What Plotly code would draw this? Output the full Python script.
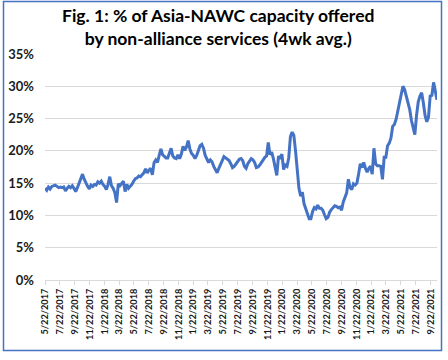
import pandas as pd
import plotly.graph_objects as go

start_date = "2017-05-22"
share_pct = [
    14.2, 13.9, 14.4, 14.1, 14.5, 14.6, 14.7, 14.5, 14.3, 14.4,
    14.3, 14.4, 13.8, 14.2, 14.5, 14.3, 14.6, 14.2, 13.7, 14.3,
    15.0, 15.8, 16.4, 15.6, 14.9, 14.5, 14.1, 14.7, 14.5, 14.8,
    14.7, 15.2, 15.0, 15.3, 14.8, 14.5, 14.0, 14.8, 16.0, 14.6,
    14.2, 13.5, 12.0, 14.9, 14.6, 14.9, 15.3, 13.7, 14.8, 14.2,
    14.5, 14.8, 15.3, 15.7, 15.8, 16.1, 16.0, 16.3, 16.6, 17.2,
    16.6, 17.0, 17.3, 16.3, 18.2, 18.6, 18.2, 19.3, 20.3, 19.4,
    19.1, 18.9, 18.9, 19.8, 20.4, 19.2, 18.9, 18.8, 19.4, 18.8,
    19.5, 20.7, 20.1, 20.6, 21.6, 20.3, 19.6, 19.3, 18.8, 19.3,
    20.0, 20.8, 21.0, 20.4, 19.3, 18.6, 18.2, 18.6, 18.3, 17.6,
    17.2, 16.6, 17.3, 17.8, 18.5, 19.1, 18.9, 18.6, 18.5, 18.0,
    17.4, 17.6, 18.0, 18.4, 18.7, 18.8, 18.5, 17.6, 17.3, 18.0,
    18.4, 18.8, 18.6, 18.2, 17.4, 17.5, 17.8, 18.2, 18.7, 19.0,
    19.2, 21.3, 19.4, 19.8, 18.8, 17.5, 16.2, 19.2, 18.8, 19.5,
    17.1, 17.8, 17.6, 18.9, 22.2, 22.9, 22.4, 20.0, 17.5, 14.2,
    13.0, 13.6, 11.8, 11.1, 10.5, 9.5, 9.5, 10.6, 11.2, 11.0,
    11.6, 11.1, 11.1, 10.8, 10.1, 9.5, 9.7, 10.5, 10.9, 11.2,
    11.5, 11.4, 11.2, 11.3, 10.8, 12.1, 12.9, 13.5, 15.6, 14.3,
    14.0, 14.9, 14.7, 15.0, 16.4, 18.0, 17.4, 18.2, 17.3, 16.7,
    17.3, 17.6, 16.4, 20.4, 18.0, 17.7, 17.7, 17.6, 15.6, 19.0,
    19.0, 20.8, 21.2, 22.0, 23.8, 24.1, 24.9, 26.1, 27.4, 28.8,
    30.0, 29.5, 28.5, 27.3, 26.4, 24.7, 23.3, 22.5, 25.5, 27.6,
    28.5, 29.0, 27.4, 25.5, 24.5, 25.2, 28.5, 28.6, 30.6, 28.9,
    27.9,
]
tick_dates = [
    "2017-05-22", "2017-07-22", "2017-09-22", "2017-11-22", "2018-01-22",
    "2018-03-22", "2018-05-22", "2018-07-22", "2018-09-22", "2018-11-22",
    "2019-01-22", "2019-03-22", "2019-05-22", "2019-07-22", "2019-09-22",
    "2019-11-22", "2020-01-22", "2020-03-22", "2020-05-22", "2020-07-22",
    "2020-09-22", "2020-11-22", "2021-01-22", "2021-03-22", "2021-05-22",
    "2021-07-22", "2021-09-22",
]
tick_labels = [f"{int(d[5:7])}/{int(d[8:10])}/{d[0:4]}" for d in tick_dates]
y_ticks = [0, 0.05, 0.10, 0.15, 0.20, 0.25, 0.30, 0.35]
title_lines = ["Fig. 1: % of Asia-NAWC capacity offered",
               "by non-alliance services (4wk avg.)"]

dates = pd.date_range(start_date, periods=len(share_pct), freq="7D")
values = [v / 100 for v in share_pct]

fig = go.Figure()
fig.add_trace(go.Scatter(
    x=dates, y=values, mode="lines",
    line=dict(color="#4472C4", width=3),
    hoverinfo="skip", showlegend=False,
))

font_fam = "Lato, 'Open Sans', sans-serif"
L, R, T, B = 45, 11, 54, 80
W, H = 448, 360
pw, ph = W - L - R, H - T - B

fig.update_layout(
    width=W, height=H,
    margin=dict(l=L, r=R, t=T, b=B, autoexpand=False),
    paper_bgcolor="white", plot_bgcolor="white",
    xaxis=dict(
        type="date",
        range=[dates[0], dates[-1]],
        tickvals=pd.to_datetime(tick_dates), ticktext=tick_labels,
        tickangle=-90, automargin=False,
        tickfont=dict(family=font_fam, size=9.2, color="#1a1a1a", weight="bold"),
        showgrid=False, showline=True, linecolor="#d9d9d9", linewidth=1,
        ticks="outside", ticklen=4, tickcolor="#d9d9d9",
        zeroline=False, fixedrange=True,
    ),
    yaxis=dict(
        range=[0, 0.35], automargin=False,
        tickvals=y_ticks, tickformat=".0%",
        tickfont=dict(family=font_fam, size=13, color="#1a1a1a", weight="bold"),
        showgrid=True, gridcolor="#d9d9d9", gridwidth=1,
        zeroline=False, showline=False, ticks="", ticklabelstandoff=10,
        fixedrange=True,
    ),
    annotations=[dict(
        text="<b>" + title_lines[0] + "<br>" + title_lines[1] + "</b>",
        xref="paper", yref="paper",
        x=(218 - L) / pw, y=(H - B - 27) / ph,
        xanchor="center", yanchor="middle", showarrow=False,
        font=dict(family=font_fam, size=17.5, color="#000000"),
        align="center", borderpad=0,
    )],
    shapes=[dict(
        type="rect", xref="paper", yref="paper",
        x0=(3.5 - L) / pw, x1=(441.5 - L) / pw,
        y0=(H - B - 350.5) / ph, y1=(H - B - 1.5) / ph,
        line=dict(color="#4472C4", width=1.5), fillcolor="rgba(0,0,0,0)",
        layer="below",
    )],
)

fig.write_html(
    "out.html",
    config={"displayModeBar": False},
    post_script="document.body.style.margin='0';document.body.style.overflow='hidden';",
)
